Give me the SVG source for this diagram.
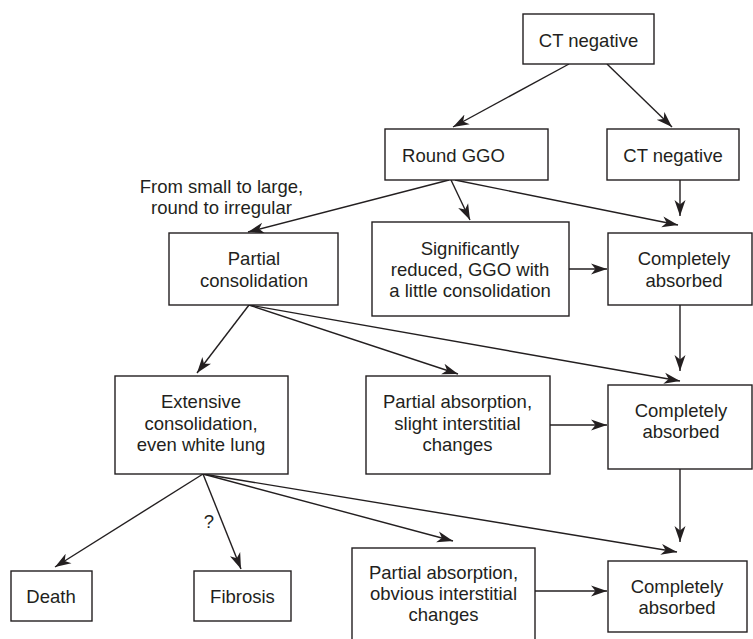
<svg xmlns="http://www.w3.org/2000/svg" width="753" height="639" viewBox="0 0 753 639">
<defs>
<marker id="arr" markerUnits="userSpaceOnUse" markerWidth="18" markerHeight="14" refX="16" refY="6" orient="auto">
<path d="M0,0.5 L16,6 L0,11.5 L4.5,6 Z" fill="#231f20"/>
</marker>
<style>
.box{fill:#fff;stroke:#231f20;stroke-width:1.4}
.t{font-family:"Liberation Sans",Arial,sans-serif;font-size:18.5px;fill:#231f20;text-anchor:middle}
.c line{stroke:#231f20;stroke-width:1.4;marker-end:url(#arr)}
</style>
</defs>
<rect width="753" height="639" fill="#fff"/>
<g class="c" id="connectors">
<line x1="569" y1="64" x2="453" y2="127"/>
<line x1="607" y1="64" x2="672" y2="127"/>
<line x1="449" y1="180" x2="248" y2="232"/>
<line x1="451" y1="180" x2="470" y2="220"/>
<line x1="455" y1="180" x2="678" y2="225"/>
<line x1="680" y1="180" x2="680" y2="216"/>
<line x1="569" y1="269" x2="607" y2="269"/>
<line x1="249" y1="305" x2="197" y2="373"/>
<line x1="249" y1="305" x2="458" y2="374"/>
<line x1="249" y1="305" x2="680" y2="381"/>
<line x1="680" y1="305" x2="680" y2="371"/>
<line x1="550" y1="425" x2="607" y2="425"/>
<line x1="203" y1="474" x2="55" y2="567"/>
<line x1="203" y1="474" x2="241" y2="569"/>
<line x1="203" y1="474" x2="453" y2="541"/>
<line x1="203" y1="474" x2="677" y2="552"/>
<line x1="680" y1="469" x2="680" y2="542"/>
<line x1="535" y1="591" x2="607" y2="591"/>
</g>
<text class="t" x="221.5" y="193">From small to large,</text>
<text class="t" x="221.5" y="213.5">round to irregular</text>
<text class="t" x="209" y="528">?</text>
<g id="ct_top"><rect class="box" x="523" y="14" width="131" height="50"/><text class="t" x="588.5" y="46.5">CT negative</text></g>
<g id="round_ggo"><rect class="box" x="385" y="129" width="163" height="51"/><text class="t" x="453.5" y="161.5">Round GGO</text></g>
<g id="ct_right"><rect class="box" x="607" y="129" width="132" height="51"/><text class="t" x="673" y="161.5">CT negative</text></g>
<g id="partial_consolidation"><rect class="box" x="169" y="233" width="169" height="72"/><text class="t" x="254" y="265">Partial</text><text class="t" x="254" y="286.5">consolidation</text></g>
<g id="significantly_reduced"><rect class="box" x="372" y="222" width="197" height="94"/><text class="t" x="470" y="255">Significantly</text><text class="t" x="470" y="276">reduced, GGO with</text><text class="t" x="470" y="296.5">a little consolidation</text></g>
<g id="absorbed_1"><rect class="box" x="608" y="233" width="144" height="72"/><text class="t" x="684" y="265">Completely</text><text class="t" x="684" y="286.5">absorbed</text></g>
<g id="extensive"><rect class="box" x="115" y="376" width="173" height="98"/><text class="t" x="201" y="408">Extensive</text><text class="t" x="201" y="429.5">consolidation,</text><text class="t" x="201" y="450.5">even white lung</text></g>
<g id="slight"><rect class="box" x="366" y="376" width="184" height="98"/><text class="t" x="457.5" y="408">Partial absorption,</text><text class="t" x="457.5" y="429.5">slight interstitial</text><text class="t" x="457.5" y="450.5">changes</text></g>
<g id="absorbed_2"><rect class="box" x="608" y="385" width="144" height="84"/><text class="t" x="681" y="417">Completely</text><text class="t" x="681" y="437.5">absorbed</text></g>
<g id="death"><rect class="box" x="11" y="571" width="81" height="50"/><text class="t" x="51" y="602.5">Death</text></g>
<g id="fibrosis"><rect class="box" x="194" y="571" width="97" height="50"/><text class="t" x="242.5" y="602.5">Fibrosis</text></g>
<g id="obvious"><rect class="box" x="352" y="548" width="183" height="100"/><text class="t" x="443.5" y="578.5">Partial absorption,</text><text class="t" x="443.5" y="600">obvious interstitial</text><text class="t" x="443.5" y="620.5">changes</text></g>
<g id="absorbed_3"><rect class="box" x="608" y="561" width="139" height="71"/><text class="t" x="677" y="593">Completely</text><text class="t" x="677" y="613.5">absorbed</text></g>
</svg>
